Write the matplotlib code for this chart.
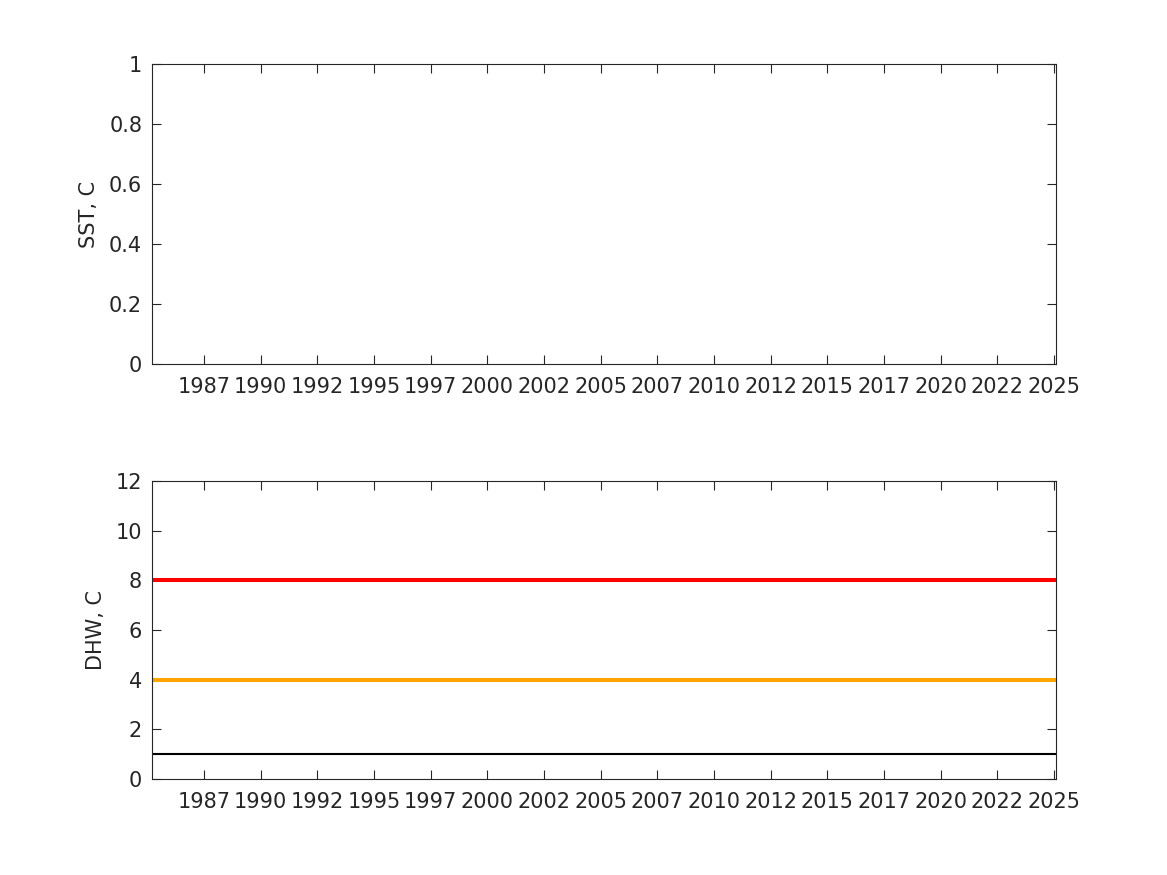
import numpy as np
import matplotlib.pyplot as plt

# time axis (decimal years)
t_start = 1985.21
t_end = 2025.09
tick_years = [1987.5, 1990, 1992.5, 1995, 1997.5, 2000, 2002.5, 2005, 2007.5,
              2010, 2012.5, 2015, 2017.5, 2020, 2022.5, 2025]
tick_labels = ['1987', '1990', '1992', '1995', '1997', '2000', '2002', '2005',
               '2007', '2010', '2012', '2015', '2017', '2020', '2022', '2025']

# SST panel has no data drawn
sst_time = []
sst_values = []

# DHW threshold lines
dhw_levels = [1, 4, 8]
dhw_colors = ['k', '#FFA500', '#FF0000']
dhw_widths = [1.5, 2.9, 2.9]

ink = '#262626'
plt.rcParams['font.family'] = 'DejaVu Sans'
plt.rcParams['font.size'] = 15

fig = plt.figure(figsize=(11.67, 8.75), dpi=100)
ax1 = fig.add_axes([0.1302, 0.584, 0.7747, 0.3429])
ax2 = fig.add_axes([0.1302, 0.1097, 0.7747, 0.3406])


def style(ax):
    ax.set_xlim(t_start, t_end)
    ax.set_xticks(tick_years)
    ax.set_xticklabels(tick_labels)
    ax.tick_params(direction='in', length=6.5, width=0.8, colors=ink,
                   top=True, right=True, labelsize=15)
    ax.tick_params(axis='x', pad=9)
    ax.tick_params(axis='y', pad=7)
    for s in ax.spines.values():
        s.set_color(ink)
        s.set_linewidth(0.8)


ax1.plot(sst_time, sst_values, color='k')
style(ax1)
ax1.set_ylim(0, 1)
ax1.set_yticks([0, 0.2, 0.4, 0.6, 0.8, 1])
ax1.set_yticklabels(['0', '0.2', '0.4', '0.6', '0.8', '1'])
ax1.set_ylabel('SST, C', color=ink, fontsize=15, labelpad=7)

for lvl, c, w in zip(dhw_levels, dhw_colors, dhw_widths):
    ax2.plot([t_start, t_end], [lvl, lvl], color=c, linewidth=w)
style(ax2)
ax2.set_ylim(0, 12)
ax2.set_yticks([0, 2, 4, 6, 8, 10, 12])
ax2.set_ylabel('DHW, C', color=ink, fontsize=15, labelpad=7)

plt.savefig('out.png')
